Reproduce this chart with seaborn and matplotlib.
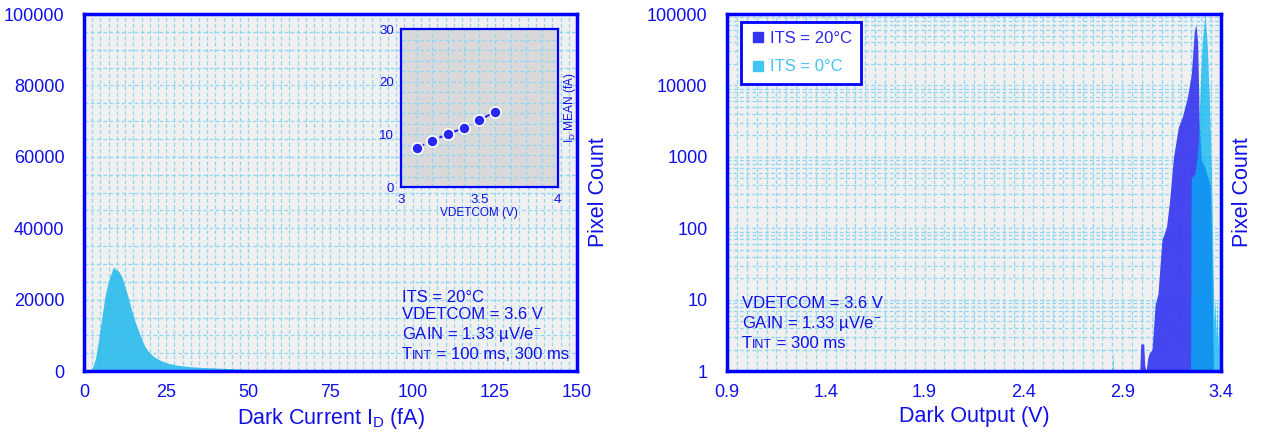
import matplotlib
matplotlib.use("Agg")
import matplotlib.pyplot as plt
from matplotlib.ticker import MultipleLocator, LogLocator, NullFormatter, FuncFormatter
from matplotlib.lines import Line2D
from matplotlib.offsetbox import TextArea, HPacker, VPacker, AnchoredOffsetbox
import seaborn as sns

# left panel: dark current distribution (fA vs pixel count)
dark_current = [1.5, 2.5, 3.5, 4.5, 5.5, 6.5, 7.5, 8.5, 9.0, 9.5, 10.5, 11.5, 12.5, 13.5,
                14.5, 15.5, 16.5, 17.5, 18.5, 19.5, 21, 23, 25, 28, 32, 36, 40, 44, 48, 50.5, 51]
pixel_count = [0, 800, 3500, 9000, 15500, 21500, 25500, 28000, 29200, 28600, 28000, 26500,
               23500, 20500, 17000, 14000, 11500, 9000, 7000, 5600, 4200, 3100, 2300, 1700,
               1250, 1000, 850, 700, 550, 400, 0]

# inset: mean dark current vs VDETCOM
vdetcom = [3.1, 3.2, 3.3, 3.4, 3.5, 3.6]
id_mean = [7.4, 8.8, 10.1, 11.2, 12.7, 14.3]

# right panel: dark output distributions
v_20c = [2.989, 2.994, 2.999, 3.009, 3.014, 3.021, 3.029, 3.037, 3.051, 3.067, 3.081, 3.101,
         3.124, 3.140, 3.160, 3.184, 3.204, 3.230, 3.250, 3.265, 3.273, 3.282, 3.290, 3.300,
         3.320, 3.335, 3.345, 3.352, 3.358, 3.362]
n_20c = [1, 2.4, 2.4, 2.4, 1.2, 1, 1.5, 1.8, 2, 8.6, 12, 68, 104, 245, 1000, 2600, 3600, 6800,
         14600, 58000, 72000, 40000, 3000, 900, 700, 500, 400, 60, 5, 1]
v_0c = [2.850, 2.853, 2.856, 3.246, 3.249, 3.270, 3.285, 3.295, 3.305, 3.319, 3.330, 3.340,
        3.348, 3.355, 3.360, 3.365, 3.370, 3.375, 3.380, 3.385, 3.390, 3.395, 3.400]
n_0c = [1, 2, 1, 1, 500, 600, 1500, 10000, 40000, 100000, 40000, 8000, 1500, 200, 30, 5, 10,
        3, 10, 2, 10, 1.5, 1]
output_ticks = [0.9, 1.4, 1.9, 2.4, 2.9, 3.4]

sns.set_theme(style="white")
plt.rcParams['font.family'] = ['Liberation Sans', 'DejaVu Sans']
plt.rcParams['mathtext.fontset'] = 'custom'
plt.rcParams['mathtext.rm'] = 'Liberation Sans'

BLUE = '#0000ff'
TXT = '#1010e6'
GRID = '#8fd6f2'
CYAN = '#2abbed'
DARK = '#3434f0'
ICE = '#00b4f0'


def style(ax, ticksize=13, lw=2.5, bg='#f0f0f0'):
    ax.set_facecolor(bg)
    for s in ax.spines.values():
        s.set_visible(True)
        s.set_color(BLUE)
        s.set_linewidth(lw)
    ax.tick_params(which='both', length=0, colors=TXT, labelsize=ticksize)
    ax.grid(True, which='both', color=GRID, ls=(0, (3, 2)), lw=0.9)
    ax.set_axisbelow(True)


fig = plt.figure(figsize=(12.65, 4.34), dpi=100)

# ---- left
ax1 = fig.add_axes([0.0664, 0.145, 0.3897, 0.8226])
style(ax1)
ax1.fill_between(dark_current, 0, pixel_count, color=CYAN, alpha=0.9, lw=0)
ax1.set_xlim(0, 150)
ax1.set_ylim(0, 100000)
ax1.xaxis.set_major_locator(MultipleLocator(25))
ax1.xaxis.set_minor_locator(MultipleLocator(2.5))
ax1.yaxis.set_major_locator(MultipleLocator(20000))
ax1.yaxis.set_minor_locator(MultipleLocator(5000))
ax1.tick_params(axis='y', pad=14)
ax1.tick_params(axis='x', pad=9)
ax1.set_xlabel(r"Dark Current I$_\mathregular{D}$ (fA)", color=TXT, fontsize=15.5, labelpad=4)
ax1.yaxis.set_label_position('right')
ax1.set_ylabel("Pixel Count", color=TXT, fontsize=15.5, labelpad=8)


def block(ax, lines, x, y):
    rows = []
    for parts in lines:
        rows.append(HPacker(children=[TextArea(t, textprops=dict(color=TXT, fontsize=s))
                                      for t, s in parts], align="baseline", pad=0, sep=0))
    vp = VPacker(children=rows, align="left", pad=0, sep=2)
    box = AnchoredOffsetbox(loc='upper left', child=vp, bbox_to_anchor=(x, y),
                            bbox_transform=ax.transAxes, frameon=False, pad=0, borderpad=0)
    ax.add_artist(box)


gain = [("GAIN = 1.33 µV/e$^{\\mathregular{-}}$", 12)]
block(ax1, [[("ITS = 20°C", 12)], [("VDETCOM = 3.6 V", 12)], gain,
            [("T", 12), ("INT", 9), (" = 100 ms, 300 ms", 12)]], 0.645, 0.228)

# ---- inset
axin = fig.add_axes([0.317, 0.569, 0.124, 0.364])
style(axin, ticksize=9.5, lw=1.6, bg='#d9d9d9')
sns.lineplot(x=vdetcom, y=id_mean, ax=axin, color='#2828f0', marker='o', markersize=8,
             markeredgecolor='white', markeredgewidth=1.2, linestyle=(0, (4, 2)), lw=1.5)
axin.set_xlim(3, 4)
axin.set_ylim(0, 30)
axin.xaxis.set_major_locator(MultipleLocator(0.5))
axin.xaxis.set_minor_locator(MultipleLocator(0.1))
axin.yaxis.set_major_locator(MultipleLocator(10))
axin.yaxis.set_minor_locator(MultipleLocator(2))
axin.xaxis.set_major_formatter(FuncFormatter(lambda v, p: f"{v:g}"))
axin.tick_params(axis='both', pad=5)
axin.set_xlabel("VDETCOM (V)", color=TXT, fontsize=8.5, labelpad=1)
axin.yaxis.set_label_position('right')
axin.set_ylabel(r"I$_\mathregular{D}$ MEAN (fA)", color=TXT, fontsize=8.5, labelpad=3)

# ---- right
ax2 = fig.add_axes([0.5747, 0.145, 0.3905, 0.8226])
style(ax2)
ax2.set_yscale('log')
ax2.fill_between(v_20c, 1, n_20c, color=DARK, alpha=0.9, lw=0)
ax2.fill_between(v_0c, 1, n_0c, color=ICE, alpha=0.72, lw=0)
ax2.set_xlim(output_ticks[0], output_ticks[-1])
ax2.set_ylim(1, 100000)
ax2.set_xticks(output_ticks)
ax2.xaxis.set_minor_locator(MultipleLocator(0.05))
ax2.yaxis.set_major_locator(LogLocator(base=10, numticks=10))
ax2.yaxis.set_minor_locator(LogLocator(base=10, subs=range(2, 10), numticks=20))
ax2.yaxis.set_major_formatter(FuncFormatter(lambda v, p: f"{int(round(v))}"))
ax2.yaxis.set_minor_formatter(NullFormatter())
ax2.xaxis.set_major_formatter(FuncFormatter(lambda v, p: f"{v:.1f}"))
ax2.tick_params(axis='y', pad=14)
ax2.tick_params(axis='x', pad=9)
ax2.set_xlabel("Dark Output (V)", color=TXT, fontsize=15.5, labelpad=4)
ax2.yaxis.set_label_position('right')
ax2.set_ylabel("Pixel Count", color=TXT, fontsize=15.5, labelpad=8)

handles = [Line2D([], [], ls='', marker='s', markersize=7, color=DARK),
           Line2D([], [], ls='', marker='s', markersize=7, color='#44c4f0')]
leg = ax2.legend(handles, ["ITS = 20°C", "ITS = 0°C"], loc='upper left',
                 bbox_to_anchor=(0.028, 0.978), frameon=True, fancybox=False, framealpha=1,
                 edgecolor=BLUE, fontsize=12, labelspacing=0.8, handletextpad=0.2,
                 handlelength=1.0, borderpad=0.55, borderaxespad=0)
leg.get_frame().set_linewidth(2)
leg.get_texts()[0].set_color('#2a2ae8')
leg.get_texts()[1].set_color('#44c4f0')

block(ax2, [[("VDETCOM = 3.6 V", 12)], gain, [("T", 12), ("INT", 9), (" = 300 ms", 12)]],
      0.03, 0.21)

fig.savefig("out.png", dpi=100)
